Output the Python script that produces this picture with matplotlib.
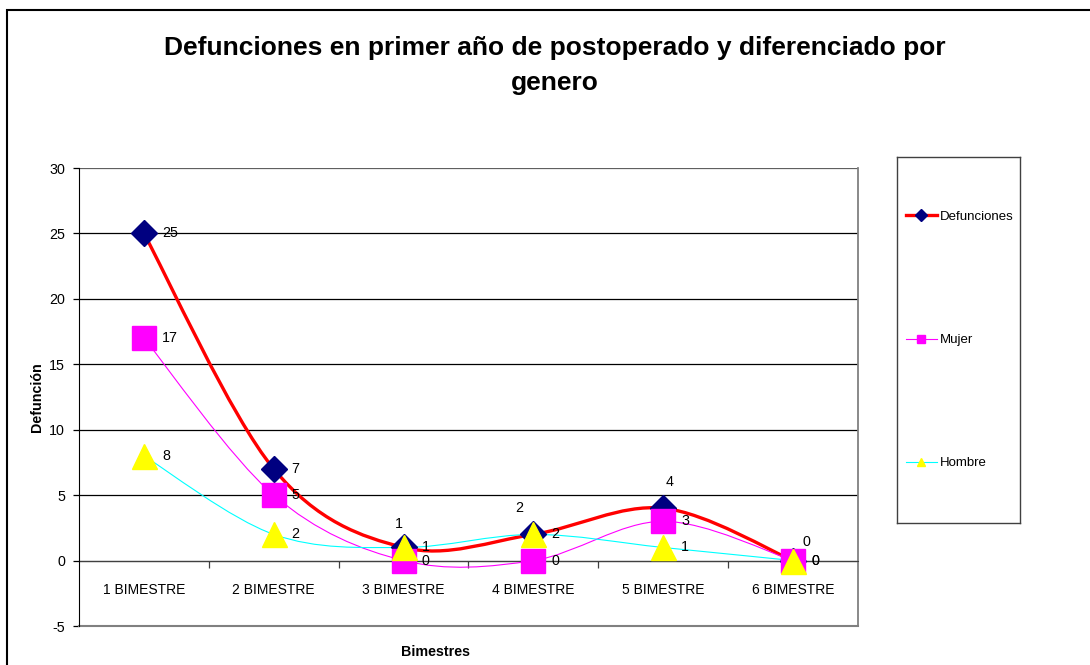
import numpy as np
import matplotlib
matplotlib.use('Agg')
import matplotlib.pyplot as plt
from matplotlib.path import Path
from matplotlib.patches import PathPatch, Rectangle
from matplotlib.lines import Line2D

plt.rcParams['font.family'] = ['Liberation Sans', 'DejaVu Sans']

categorias = ['1 BIMESTRE', '2 BIMESTRE', '3 BIMESTRE', '4 BIMESTRE', '5 BIMESTRE', '6 BIMESTRE']
defunciones = [25, 7, 1, 2, 4, 0]
mujer = [17, 5, 0, 0, 3, 0]
hombre = [8, 2, 1, 2, 1, 0]
y_ticks = [-5, 0, 5, 10, 15, 20, 25, 30]


def smooth_path(xs, ys):
    # excel style smoothed line: bezier with catmull-rom control points
    pts = np.column_stack([xs, ys]).astype(float)
    n = len(pts)
    verts = [pts[0]]
    codes = [Path.MOVETO]
    for i in range(n - 1):
        p0 = pts[max(i - 1, 0)]
        p1 = pts[i]
        p2 = pts[i + 1]
        p3 = pts[min(i + 2, n - 1)]
        c1 = p1 + (p2 - p0) / 6.0
        c2 = p2 - (p3 - p1) / 6.0
        verts += [c1, c2, p2]
        codes += [Path.CURVE4] * 3
    return Path(verts, codes)


fig = plt.figure(figsize=(10.9, 6.65), dpi=100, facecolor='white')
ax = fig.add_axes([79 / 1090, 1 - 626 / 665, (858 - 79) / 1090, (626 - 168) / 665])

x = np.arange(len(categorias))

series = [
    ('Defunciones', defunciones, '#ff0000', 2.4, 'D', 13, '#000080'),
    ('Mujer', mujer, '#ff00ff', 0.8, 's', 17, '#ff00ff'),
    ('Hombre', hombre, '#00ffff', 0.8, '^', 18, '#ffff00'),
]

handles = []
for i, (name, vals, lc, lw, mk, ms, mc) in enumerate(series):
    patch = PathPatch(smooth_path(x, vals), fill=False, edgecolor=lc, lw=lw,
                      zorder=3, capstyle='round', joinstyle='round')
    ax.add_patch(patch)
    ax.plot(x, vals, linestyle='none', marker=mk, markersize=ms,
            markerfacecolor=mc, markeredgecolor=mc, zorder=4 + i)
    handles.append(Line2D([], [], color=lc, lw=lw, marker=mk,
                          markersize=6 if mk != 's' else 5.5,
                          markerfacecolor=mc, markeredgecolor=mc))

# data labels
above_off = {2: (-5, 23), 3: (-14, 26), 4: (6, 26), 5: (13, 19)}
for i, v in enumerate(defunciones):
    if i in above_off:
        ax.annotate(str(v), (x[i], v), xytext=above_off[i], textcoords='offset pixels',
                    ha='center', va='center', fontsize=10.3, zorder=10)
    else:
        ax.annotate(str(v), (x[i], v), xytext=(18, 0), textcoords='offset pixels',
                    ha='left', va='center', fontsize=10.3, zorder=10)
for vals in (mujer, hombre):
    for i, v in enumerate(vals):
        ax.annotate(str(v), (x[i], v), xytext=(18, 0), textcoords='offset pixels',
                    ha='left', va='center', fontsize=10.3, zorder=10)

ax.set_xlim(-0.5, len(categorias) - 0.5)
ax.set_ylim(-5, 30)
ax.set_yticks(y_ticks)
ax.set_yticklabels([str(t) for t in y_ticks], fontsize=10.3)
ax.set_xticks(x)
ax.set_xticklabels(categorias, fontsize=10.3)
ax.set_xticks(np.arange(0.5, len(categorias) - 0.5, 1.0), minor=True)
ax.tick_params(axis='x', which='major', length=0, pad=16)
ax.tick_params(axis='x', which='minor', length=5, width=0.9, color='#404040', direction='out')
ax.tick_params(axis='y', length=4, width=0.9, pad=6, direction='out')

ax.spines['bottom'].set_position(('data', 0))
ax.spines['bottom'].set_color('#404040')
ax.spines['bottom'].set_zorder(2.5)
ax.spines['left'].set_color('black')
ax.spines['left'].set_zorder(2.6)
ax.spines['top'].set_visible(False)
ax.spines['right'].set_color('#808080')
ax.spines['right'].set_linewidth(1.3)

ax.yaxis.grid(True, color='black', lw=0.9)
ax.get_ygridlines()[-1].set_color('#606060')
ax.axhline(-5, color='#808080', lw=1.5, clip_on=False, zorder=2)
ax.set_axisbelow(True)

ax.set_ylabel('Defunción', fontsize=10.3, fontweight='bold', labelpad=4)
fig.text(0.4, 1 - 652 / 665, 'Bimestres', ha='center', va='center',
         fontsize=10.3, fontweight='bold')

fig.text(0.509, 1 - 65.5 / 665,
         'Defunciones en primer año de postoperado y diferenciado por\ngenero',
         ha='center', va='center', fontsize=19, fontweight='bold', linespacing=1.55)

# legend box
lax = fig.add_axes([897 / 1090, 1 - 523 / 665, (1020 - 897) / 1090, (523 - 157) / 665])
lax.set_xticks([])
lax.set_yticks([])
for s in lax.spines.values():
    s.set_color('#404040')
    s.set_linewidth(1.0)
lax.legend(handles, [s[0] for s in series], loc='center left', frameon=False,
           fontsize=9.5, labelspacing=8.4, handlelength=2.3, handletextpad=0.25,
           borderaxespad=0.3)

# outer chart frame
fig.patches.append(Rectangle((7 / 1090, -0.1), 1.2, 1.1 - 10 / 665,
                             transform=fig.transFigure, fill=False,
                             edgecolor='black', lw=1.5, zorder=0))

fig.savefig('out.png', dpi=100, facecolor='white')
